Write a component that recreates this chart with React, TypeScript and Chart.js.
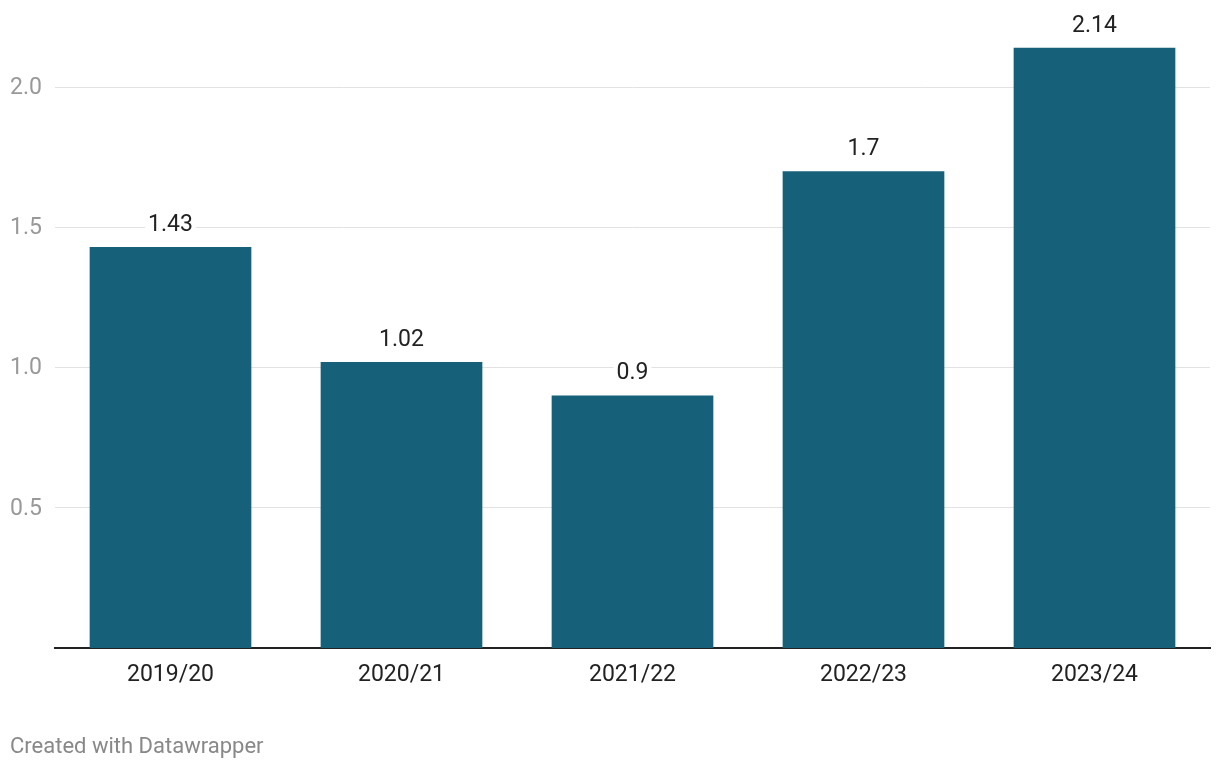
import React, { useEffect, useRef } from "react";
import { Chart, registerables } from "chart.js";

Chart.register(...registerables);

const categories = ["2019/20", "2020/21", "2021/22", "2022/23", "2023/24"];
const values = [1.43, 1.02, 0.9, 1.7, 2.14];
const yTicks = [0.5, 1.0, 1.5, 2.0];

const FONT = "Roboto, 'Noto Sans', sans-serif";

const valueLabels = {
  id: "valueLabels",
  afterDatasetsDraw(chart: any) {
    const ctx = chart.ctx;
    const meta = chart.getDatasetMeta(0);
    ctx.save();
    ctx.font = `23px ${FONT}`;
    ctx.textAlign = "center";
    ctx.textBaseline = "middle";
    meta.data.forEach((bar: any, i: number) => {
      const v = values[i];
      const txt = String(v);
      const w = ctx.measureText(txt).width;
      const y = bar.y - 22;
      ctx.fillStyle = "#ffffff";
      ctx.fillRect(bar.x - w / 2 - 3, y - 12, w + 6, 24);
      ctx.fillStyle = "#222222";
      ctx.fillText(txt, bar.x, y);
    });
    ctx.restore();
  },
};

export default function App() {
  const ref = useRef<HTMLCanvasElement | null>(null);
  useEffect(() => {
    document.body.style.margin = "0";
    const chart = new Chart(ref.current as HTMLCanvasElement, {
      type: "bar",
      data: {
        labels: categories,
        datasets: [
          {
            data: values,
            backgroundColor: "#17607a",
            barPercentage: 0.7,
            categoryPercentage: 1,
          },
        ],
      },
      options: {
        animation: false,
        responsive: false,
        maintainAspectRatio: false,
        layout: { padding: { left: 10, right: 10, top: 31, bottom: 80 } },
        plugins: { legend: { display: false }, tooltip: { enabled: false } },
        scales: {
          x: {
            grid: { display: false, drawTicks: false },
            border: { display: true, color: "#222222", width: 2 },
            ticks: {
              color: "#222222",
              font: { family: FONT, size: 23 },
              padding: 13,
            },
            afterFit: (s: any) => {
              s.height = 40;
            },
          },
          y: {
            min: 0,
            max: 2.2,
            afterBuildTicks: (s: any) => {
              s.ticks = yTicks.map((v) => ({ value: v }));
            },
            grid: { color: "#e2e2e2", lineWidth: 1, drawTicks: false },
            border: { display: false },
            ticks: {
              color: "#999999",
              font: { family: FONT, size: 23 },
              crossAlign: "far",
              padding: 0,
              labelOffset: 1,
              callback: (v: any) => Number(v).toFixed(1),
            },
            afterFit: (s: any) => {
              s.width = 45;
            },
          },
        },
      },
      plugins: [valueLabels],
    });
    return () => chart.destroy();
  }, []);
  return (
    <div style={{ position: "relative", width: 1220, height: 768, background: "#fff" }}>
      <canvas ref={ref} width={1220} height={768} style={{ position: "absolute", left: 0, top: 0 }} />
      <div
        style={{
          position: "absolute",
          left: 10,
          top: 733,
          fontFamily: FONT,
          fontSize: 22,
          color: "#888888",
          lineHeight: "26px",
        }}
      >
        Created with Datawrapper
      </div>
    </div>
  );
}
